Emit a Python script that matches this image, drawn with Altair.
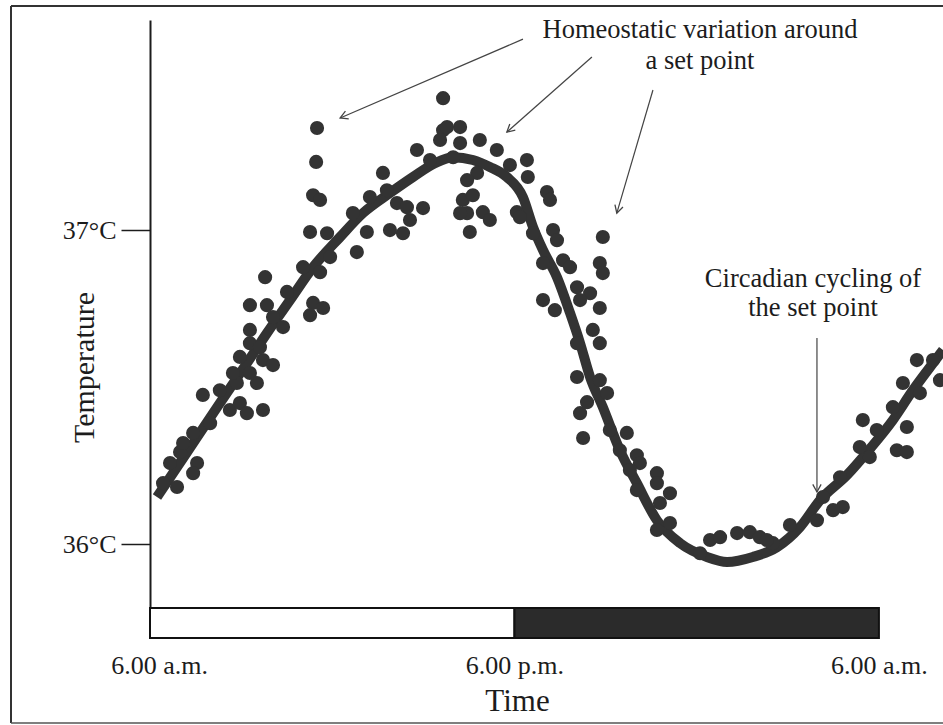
import math
import altair as alt
import pandas as pd

# ---------------- data ----------------
# smooth set-point curve (hours after 6.00 a.m., temperature in °C)
curve_hour = [0.23, 1.22, 2.21, 3.19, 3.85, 4.61, 5.37, 6.26, 7.01, 7.90, 8.66, 9.38, 9.98,
              10.63, 11.19, 11.75, 12.28, 12.61, 12.94, 13.40, 13.83, 14.16, 14.49, 14.91,
              15.47, 16.03, 16.69, 17.45, 18.34, 19.00, 19.85, 20.64, 21.40, 22.06, 22.95,
              23.70, 24.46, 25.12, 25.78, 26.11]
curve_temp = [36.150, 36.293, 36.436, 36.576, 36.672, 36.777, 36.882, 36.978, 37.054, 37.118,
              37.169, 37.213, 37.232, 37.223, 37.201, 37.169, 37.105, 37.010, 36.936, 36.850,
              36.736, 36.640, 36.532, 36.436, 36.299, 36.194, 36.076, 36.003, 35.959, 35.943,
              35.959, 35.990, 36.054, 36.140, 36.220, 36.303, 36.395, 36.490, 36.576, 36.618]

# individual measurements
obs_hour = [0.43, 0.89, 0.66, 0.99, 1.55, 1.42, 1.09, 1.42, 1.98, 1.74, 2.30, 2.63, 2.96, 3.19,
            3.72, 2.86, 3.52, 2.73, 3.29, 2.96, 3.72, 4.05, 3.29, 3.62, 3.29, 4.38, 4.05, 3.29,
            3.85, 4.51, 5.37, 5.70, 5.27, 3.79, 5.04, 5.60, 5.93, 6.81,
            9.65, 5.50, 5.47, 5.37, 5.60, 5.27, 5.83, 7.14, 6.68, 7.24, 7.67, 7.80, 8.13, 7.90,
            8.33, 8.56, 8.99, 8.46, 8.79, 9.22, 9.65, 10.21, 9.55, 10.21, 9.98, 10.77, 10.86,
            11.42, 11.85, 10.44, 10.30, 10.63, 10.44, 10.96, 11.19, 10.53, 12.08, 9.78,
            12.41, 12.44, 13.07, 13.17, 10.21, 12.18, 12.61, 13.27, 13.40, 14.91, 14.81, 14.91,
            12.94, 13.60, 13.83, 12.94, 13.33, 14.06, 14.49, 14.81, 14.16, 14.58, 14.81, 14.06,
            14.06, 14.81, 15.05, 14.39, 14.16, 14.26, 15.14, 15.70, 15.47, 16.03, 16.13, 15.80,
            16.69, 16.69, 17.12, 16.03, 16.79, 16.69, 17.12, 18.44, 18.77, 19.33, 19.75, 20.08,
            21.07, 20.51, 18.11, 20.31, 21.96, 22.81, 22.49, 22.72, 22.16, 23.37, 23.70, 23.47,
            23.93, 24.59, 24.92, 24.46, 24.92, 24.79, 25.35, 25.25, 25.78, 26.01]
obs_temp = [36.194, 36.182, 36.258, 36.293, 36.258, 36.226, 36.322, 36.354, 36.385, 36.475,
            36.490, 36.427, 36.449, 36.417, 36.427, 36.513, 36.513, 36.545, 36.545, 36.596,
            36.586, 36.570, 36.640, 36.627, 36.682, 36.691, 36.723, 36.761, 36.761, 36.803,
            36.768, 36.752, 36.729, 36.850, 36.882, 36.866, 36.914, 36.930,
            37.420, 37.325, 37.217, 37.111, 37.096, 36.994, 36.990, 36.994, 37.054, 37.105,
            37.182, 37.127, 37.086, 37.000, 36.990, 37.032, 37.070, 37.073, 37.255, 37.223,
            37.318, 37.328, 37.287, 37.277, 37.232, 37.182, 37.287, 37.255, 37.207, 37.159,
            37.096, 37.111, 37.054, 37.057, 37.032, 36.994, 37.057, 37.328,
            37.223, 37.169, 37.121, 37.096, 37.054, 37.041, 36.990, 37.000, 36.968, 36.978,
            36.895, 36.863, 36.895, 36.904, 36.882, 36.777, 36.745, 36.818, 36.799, 36.752,
            36.777, 36.682, 36.640, 36.640, 36.532, 36.522, 36.481, 36.452, 36.417, 36.338,
            36.363, 36.354, 36.299, 36.283, 36.258, 36.236, 36.226, 36.194, 36.162, 36.172,
            36.131, 36.045, 36.067, 36.013, 36.022, 36.035, 36.038, 36.022, 36.061, 36.003,
            35.971, 36.013, 36.076, 36.118, 36.108, 36.213, 36.150, 36.309, 36.277, 36.395,
            36.363, 36.299, 36.293, 36.436, 36.373, 36.513, 36.481, 36.586, 36.586, 36.522]

# light / dark bar
phase_name = ["light", "dark"]
phase_start = [0, 12]
phase_end = [12, 24]

# axis labels
tick_hours = [0, 12, 24]
tick_text = ["6.00 a.m.", "6.00 p.m.", "6.00 a.m."]
temp_ticks = [36, 37]

# annotations (text lines and arrows, in data units)
note_text = ["Homeostatic variation around", "a set point", "Circadian cycling of", "the set point"]
note_hour = [18.11, 18.11, 21.83, 21.83]
note_temp = [37.611, 37.513, 36.818, 36.726]
arrow_from_hour = [12.28, 14.55, 16.56, 21.96]
arrow_from_temp = [37.608, 37.551, 37.446, 36.656]
arrow_to_hour = [6.26, 11.75, 15.37, 21.96]
arrow_to_temp = [37.357, 37.312, 37.054, 36.166]

# ---------------- layout ----------------
W, H = 793, 618
X_DOM = [0, 26.11]
Y_DOM = [35.701, 37.669]
FONT = "Liberation Serif"
INK = "#1c1c1c"
DOT = "#333333"

xs = alt.Scale(domain=X_DOM, nice=False, zero=False)
ys = alt.Scale(domain=Y_DOM, nice=False, zero=False)
px_per_h = W / (X_DOM[1] - X_DOM[0])
px_per_deg = H / (Y_DOM[1] - Y_DOM[0])

curve_df = pd.DataFrame({"hour": curve_hour, "temp": curve_temp})
obs_df = pd.DataFrame({"hour": obs_hour, "temp": obs_temp})
phase_df = pd.DataFrame({"phase": phase_name, "hour": phase_start, "hour2": phase_end})
note_df = pd.DataFrame({"text": note_text, "hour": note_hour, "temp": note_temp})
arrow_df = pd.DataFrame({"hour": arrow_from_hour, "temp": arrow_from_temp,
                         "hour2": arrow_to_hour, "temp2": arrow_to_temp})
arrow_df["ang"] = [
    (math.degrees(math.atan2(-(t2 - t1) * px_per_deg, (h2 - h1) * px_per_h)) + 360) % 360
    for h1, t1, h2, t2 in zip(arrow_from_hour, arrow_from_temp, arrow_to_hour, arrow_to_temp)
]
dummy = pd.DataFrame({"k": [0]})

label_expr = ("datum.value == 12 ? '%s' : '%s'" % (tick_text[1], tick_text[0]))

x_axis = alt.Axis(
    values=tick_hours, labelExpr=label_expr, title="Time", domain=False, ticks=False,
    tickSize=0, grid=False, labelFlush=False, labelFont=FONT, labelFontSize=26,
    labelColor=INK, labelBaseline="alphabetic", labelPadding=35,
    labelOffset={"condition": {"test": "datum.value == 0", "value": 9}, "value": 0},
    titleFont=FONT, titleFontSize=31, titleFontWeight="normal", titleColor=INK,
    titleX=367, titleY=72, titleBaseline="alphabetic", titleAlign="center")
y_axis = alt.Axis(
    values=temp_ticks, labelExpr="datum.value + '°C'", title="Temperature",
    domainColor=INK, domainWidth=2, tickColor=INK, tickWidth=1.5, tickSize=29,
    grid=False, labelFont=FONT, labelFontSize=26, labelColor=INK, labelPadding=5,
    labelFlush=False,
    titleFont=FONT, titleFontSize=30, titleFontWeight="normal", titleColor=INK,
    titleAngle=270, titleX=-66, titleY=347, titleAlign="center", titleBaseline="middle")

X = alt.X("hour:Q", scale=xs, axis=x_axis)
Y = alt.Y("temp:Q", scale=ys, axis=y_axis)

line = alt.Chart(curve_df).mark_line(color=DOT, strokeWidth=10, interpolate="monotone").encode(
    x=X, y=Y)

dots = alt.Chart(obs_df).mark_circle(color=DOT, size=200, opacity=1).encode(x=X, y=Y)

bar = alt.Chart(phase_df).mark_rect(stroke="#111", strokeWidth=2).encode(
    x=X,
    x2="hour2:Q",
    y=alt.value(H - 30),
    y2=alt.value(H),
    fill=alt.Fill("phase:N", scale=alt.Scale(domain=phase_name, range=["#ffffff", "#2b2b2b"]),
                  legend=None),
)

notes = alt.Chart(note_df).mark_text(font=FONT, fontSize=26.5, color=INK, align="center",
                                     baseline="alphabetic").encode(x=X, y=Y, text="text:N")

arrow_lines = alt.Chart(arrow_df).mark_rule(color="#444", strokeWidth=1.2).encode(
    x=X, y=Y, x2="hour2:Q", y2="temp2:Q")

arrow_heads = alt.Chart(arrow_df).mark_point(
    shape="M-1,-0.55L0,0L-1,0.55", filled=False, color="#444", strokeWidth=1.3, size=230,
    opacity=1).encode(
    x=alt.X("hour2:Q", scale=xs, axis=x_axis),
    y=alt.Y("temp2:Q", scale=ys, axis=y_axis),
    angle=alt.Angle("ang:Q", scale=None),
)

frame_left = alt.Chart(dummy).mark_rule(color="#333", strokeWidth=2).encode(
    x=alt.value(-139), y=alt.value(-14), y2=alt.value(703))
frame_top = alt.Chart(dummy).mark_rule(color="#333", strokeWidth=2).encode(
    x=alt.value(-139), x2=alt.value(W), y=alt.value(-14))
frame_bottom = alt.Chart(dummy).mark_rule(color="#555", strokeWidth=1.5).encode(
    x=alt.value(-139), x2=alt.value(W), y=alt.value(703))

chart = alt.layer(
    line, bar, dots, notes, arrow_lines, arrow_heads, frame_left, frame_top, frame_bottom
).properties(
    width=W, height=H,
    autosize=alt.AutoSizeParams(type="none"),
    padding={"left": 150, "top": 20, "right": 0, "bottom": 87},
    background="white",
).configure_view(stroke=None)

chart.save("out.html", embed_options={"renderer": "svg", "actions": False})
